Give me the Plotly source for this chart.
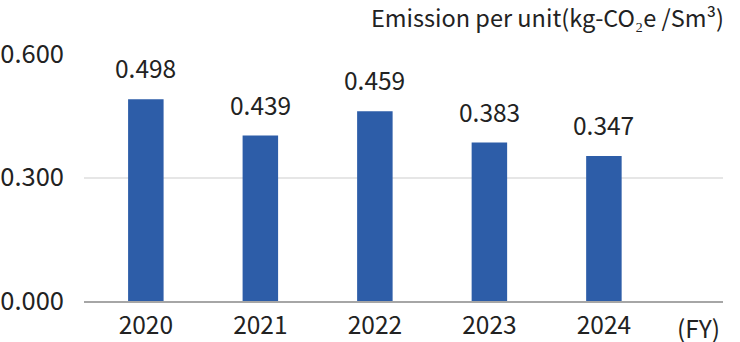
import plotly.graph_objects as go

years = ["2020", "2021", "2022", "2023", "2024"]
bar_values = [0.490, 0.402, 0.461, 0.385, 0.352]
label_texts = ["0.498", "0.439", "0.459", "0.383", "0.347"]
y_ticks = [0.0, 0.3, 0.6]
y_tick_labels = ["0.000", "0.300", "0.600"]

FONT = "Noto Sans CJK JP"
TXT = "#222222"

fig = go.Figure()
fig.add_trace(go.Bar(
    x=years, y=bar_values, width=0.31,
    marker=dict(color="#2D5DA8", line=dict(width=0)),
    hoverinfo="skip",
))

for i, (v, t) in enumerate(zip(bar_values, label_texts)):
    fig.add_annotation(x=i, y=v, text=t, showarrow=False, xref="x", yref="y",
                       yanchor="bottom", yshift=12,
                       font=dict(family=FONT, size=24.5, color=TXT))

fig.add_annotation(xref="paper", yref="paper", x=1, y=1, xanchor="right",
                   yanchor="bottom", yshift=18, xshift=3, showarrow=False,
                   text="Emission per unit(kg-CO₂e /Sm³)",
                   font=dict(family=FONT, size=23.5, color=TXT))

fig.add_annotation(xref="paper", yref="paper", x=1.0, y=0, xanchor="right",
                   yanchor="middle", yshift=-26, xshift=-1, showarrow=False,
                   text="(FY)",
                   font=dict(family=FONT, size=24.5, color=TXT))

fig.update_layout(
    width=740, height=342,
    margin=dict(l=84, r=17, t=54, b=41, autoexpand=False),
    paper_bgcolor="white", plot_bgcolor="white",
    showlegend=False,
    font=dict(family=FONT, size=24.5, color=TXT),
    xaxis=dict(type="category", range=[-0.54, 5.04], showgrid=False,
               showline=True, linecolor="#A6A6A6", linewidth=1.5,
               ticks="", tickfont=dict(family=FONT, size=24.5, color=TXT),
               ticklabelstandoff=2, automargin=False),
    yaxis=dict(range=[0, 0.6], tickvals=y_ticks, ticktext=y_tick_labels,
               showgrid=True, gridcolor="#E6E6E6", gridwidth=1.5,
               zeroline=False, showline=False, ticks="",
               tickfont=dict(family=FONT, size=25.5, color=TXT),
               ticklabelstandoff=19, automargin=False),
)

fig.write_html("out.html")
